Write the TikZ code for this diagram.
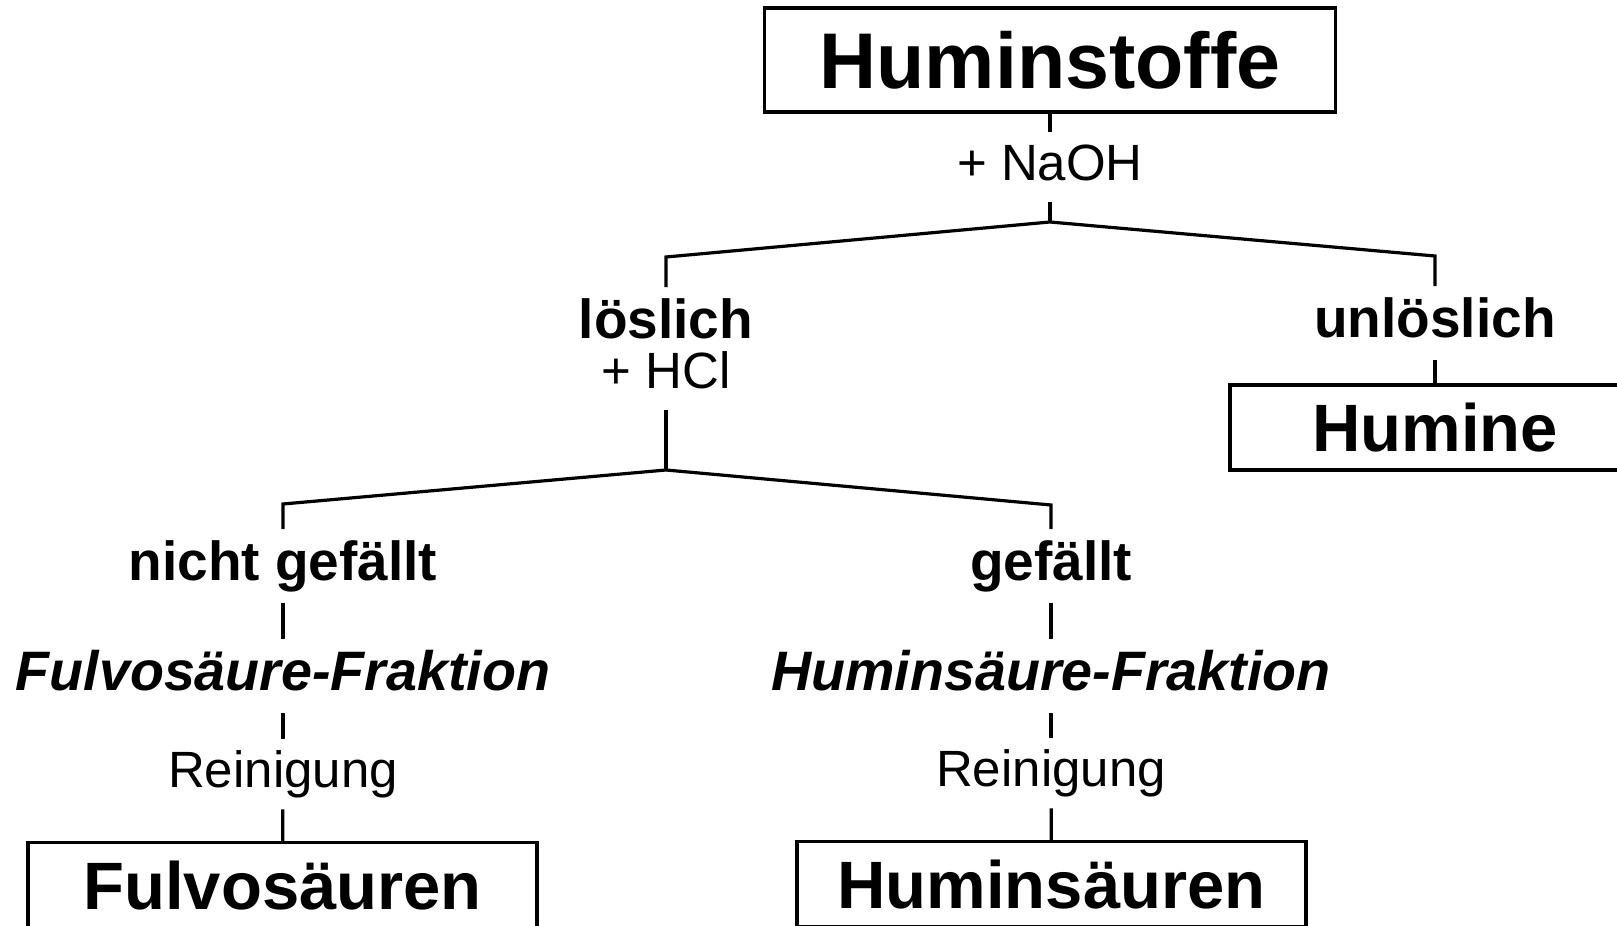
\documentclass[tikz,border=0pt]{standalone}
\usepackage{fontspec}
\setmainfont{Liberation Sans}

\begin{document}
\begin{tikzpicture}[x=0.5pt, y=-0.5pt, line width=1.6pt,
    box/.style={draw, line width=1.6pt, inner sep=0pt, text height=24pt, text depth=0pt,
        font=\fontsize{33.5}{36}\selectfont\bfseries},
    boldlabel/.style={inner xsep=0pt, inner ysep=5pt, text height=19.7pt, text depth=5.8pt,
        font=\fontsize{27.5}{30}\selectfont\bfseries},
    fraklabel/.style={boldlabel, font=\fontsize{27.8}{30}\selectfont\bfseries\itshape},
    plainlabel/.style={inner xsep=0pt, inner ysep=5pt, text height=18.3pt, text depth=5.4pt,
        font=\fontsize{25.5}{28}\selectfont}]
\useasboundingbox (0,0) rectangle (1617,926);
\clip (0,0) rectangle (1617,926);

% top
\node[box, minimum width=285.5pt, minimum height=52pt, text height=28.3pt,
    font=\fontsize{39.5}{42}\selectfont\bfseries] (huminstoffe) at (1050,60) {Huminstoffe};
\node[plainlabel, anchor=base] (naoh) at (1050,180) {+ NaOH};
\draw (huminstoffe) -- (naoh);
\coordinate (split1) at (1050,222);
\coordinate (split1l) at (666,257);
\coordinate (split1r) at (1435,256);
\draw (naoh) -- (split1);

% second level
\node[boldlabel, anchor=base] (loeslich) at (666,338) {löslich};
\node[plainlabel, anchor=base] (hcl) at (666,388) {+ HCl};
\node[boldlabel, anchor=base] (unloeslich) at (1435,337) {unlöslich};
\node[box, minimum width=205pt, minimum height=42.5pt] (humine) at (1435,427.5) {Humine};
\draw (loeslich) -- (split1l) -- (split1) -- (split1r) -- (unloeslich);
\draw (unloeslich) -- (humine);

\coordinate (split2) at (666,470);
\coordinate (split2l) at (283,504);
\coordinate (split2r) at (1051,505);
\draw (hcl) -- (split2);

% left branch
\node[boldlabel, anchor=base] (nichtgefaellt) at (283,580) {nicht gefällt};
\node[fraklabel, anchor=base] (fulvofrak) at (283,690) {Fulvosäure-Fraktion};
\node[plainlabel, anchor=base] (reinigungl) at (283,787) {Reinigung};
\node[box, minimum width=254.5pt, minimum height=42.5pt] (fulvo) at (282.5,885) {Fulvosäuren};

% right branch
\node[boldlabel, anchor=base] (gefaellt) at (1051,580) {gefällt};
\node[fraklabel, anchor=base] (huminfrak) at (1051,690) {Huminsäure-Fraktion};
\node[plainlabel, anchor=base] (reinigungr) at (1051,786) {Reinigung};
\node[box, minimum width=254.5pt, minimum height=42.5pt] (humins) at (1051.5,884) {Huminsäuren};

\draw (nichtgefaellt) -- (split2l) -- (split2) -- (split2r) -- (gefaellt);
\draw (nichtgefaellt) -- (fulvofrak);
\draw (fulvofrak) -- (reinigungl);
\draw (reinigungl) -- (fulvo);
\draw (gefaellt) -- (huminfrak);
\draw (huminfrak) -- (reinigungr);
\draw (reinigungr) -- (humins);
\end{tikzpicture}
\end{document}
